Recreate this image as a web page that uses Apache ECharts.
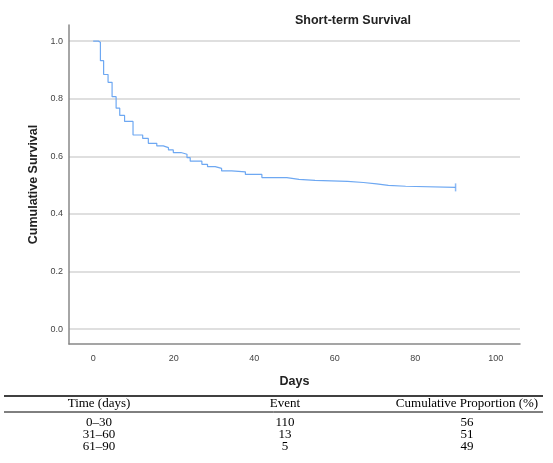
<!DOCTYPE html>
<html>
<head>
<meta charset="utf-8">
<script src="https://cdn.jsdelivr.net/npm/echarts@6/dist/echarts.min.js"></script>
<style>
  html, body { margin: 0; padding: 0; background: #fff; }
  #main { width: 553px; height: 463px; }
</style>
</head>
<body>
<div id="main"></div>
<script>
// Kaplan-Meier steps: day of event and survival after it
var days     = [0, 1.3, 1.8, 2.6, 3.7, 4.7, 5.7, 6.6, 7.8, 9.9, 12.3, 13.7, 15.8, 17.4, 18.7, 19.9, 21.8, 23.3, 24.1, 27.0, 28.4, 30.3, 31.9, 34.4, 37.8, 41.9, 48.1, 51.1, 55.1, 63.2, 67.1, 70.4, 73.3, 77.6, 90];
var survival = [1.0, 0.996, 0.932, 0.884, 0.857, 0.807, 0.767, 0.742, 0.721, 0.674, 0.662, 0.645, 0.636, 0.630, 0.622, 0.613, 0.607, 0.595, 0.583, 0.572, 0.564, 0.558, 0.549, 0.546, 0.537, 0.526, 0.520, 0.516, 0.513, 0.509, 0.504, 0.499, 0.496, 0.492, 0.492];
var censored = [[90, 0.492]];

var xTicks = [0, 20, 40, 60, 80, 100];
var yTicks = [0, 0.2, 0.4, 0.6, 0.8, 1.0];

var tableHeader = ['Time (days)', 'Event', 'Cumulative Proportion (%)'];
var tableRows = [
  ['0\u201330', '110', '56'],
  ['31\u201360', '13', '51'],
  ['61\u201390', '5', '49']
];

var kmData = days.map(function (d, i) { return [d, survival[i]]; });

var colX = [99, 285, 467];
var headerY = 404;
var rowY = [423, 435, 447];
var tableFont = '13px "Liberation Serif", "Times New Roman", serif';

var graphics = [
  { type: 'line', shape: { x1: 4, y1: 396, x2: 543, y2: 396 }, style: { stroke: '#000', lineWidth: 1.5 } },
  { type: 'line', shape: { x1: 4, y1: 412, x2: 543, y2: 412 }, style: { stroke: '#000', lineWidth: 1 } }
];
tableHeader.forEach(function (h, c) {
  graphics.push({ type: 'text', x: colX[c], y: headerY,
    style: { text: h, font: tableFont, fill: '#000', textAlign: 'center', textVerticalAlign: 'middle' } });
});
tableRows.forEach(function (row, r) {
  row.forEach(function (v, c) {
    graphics.push({ type: 'text', x: colX[c], y: rowY[r],
      style: { text: v, font: tableFont, fill: '#000', textAlign: 'center', textVerticalAlign: 'middle' } });
  });
});

var chart = echarts.init(document.getElementById('main'), null, { renderer: 'canvas' });
chart.setOption({
  animation: false,
  backgroundColor: '#fff',
  title: {
    text: 'Short-term Survival',
    left: 348, top: 9,
    textAlign: 'center',
    textStyle: { fontFamily: 'Liberation Sans, Arial', fontSize: 12.5, fontWeight: 'bold', color: '#222' }
  },
  grid: { left: 69, right: 33, top: 25, bottom: 119 },
  xAxis: {
    type: 'value',
    min: -6, max: 106,
    name: 'Days',
    nameLocation: 'middle',
    nameGap: 31,
    nameTextStyle: { fontFamily: 'Liberation Sans, Arial', fontSize: 12.5, fontWeight: 'bold', color: '#222' },
    axisLine: { onZero: false, lineStyle: { color: '#888', width: 1.5 } },
    axisTick: { show: false, customValues: xTicks },
    axisLabel: { customValues: xTicks, margin: 10, fontFamily: 'Liberation Sans, Arial', fontSize: 9, color: '#444' },
    splitLine: { show: false }
  },
  yAxis: {
    type: 'value',
    min: -0.052, max: 1.056,
    name: 'Cumulative Survival',
    nameLocation: 'middle',
    nameGap: 23,
    nameTextStyle: { fontFamily: 'Liberation Sans, Arial', fontSize: 12.5, fontWeight: 'bold', color: '#222' },
    axisLine: { show: true, onZero: false, lineStyle: { color: '#888', width: 1.5 } },
    axisTick: { show: false, customValues: yTicks },
    axisLabel: { customValues: yTicks, margin: 6, fontFamily: 'Liberation Sans, Arial', fontSize: 9, color: '#444',
      formatter: function (v) { return v.toFixed(1); } },
    splitLine: { show: true, lineStyle: { color: '#d4d4d4', width: 1.5 } }
  },
  series: [
    {
      type: 'line',
      step: 'end',
      data: kmData,
      showSymbol: false,
      lineStyle: { color: '#6ea8f2', width: 1.2 }
    },
    {
      type: 'scatter',
      data: censored,
      symbol: 'rect',
      symbolSize: [1.5, 8],
      itemStyle: { color: '#6ea8f2' }
    }
  ],
  graphic: graphics
});
</script>
</body>
</html>
